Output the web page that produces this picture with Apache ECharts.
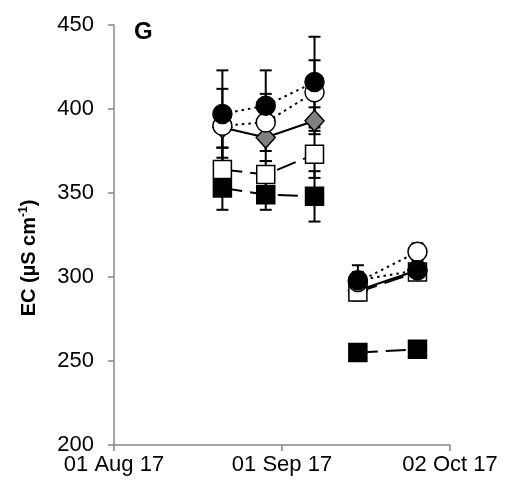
<!DOCTYPE html>
<html>
<head>
<meta charset="utf-8">
<script src="https://cdn.jsdelivr.net/npm/echarts@6/dist/echarts.min.js"></script>
<style>
html, body { margin: 0; padding: 0; background: #fff; }
#main { width: 507px; height: 493px; }
</style>
</head>
<body>
<div id="main"></div>
<script>
// sampling dates
var dates = ['2017-08-21', '2017-08-29', '2017-09-07', '2017-09-15', '2017-09-26'];
var xTicks = ['2017-08-01', '2017-09-01', '2017-10-02'];

// EC values (µS/cm) and error half-widths per treatment
var filledCircle = [397, 402, 416, 298, 304];
var filledCircleErr = [26, 21, 27, 9, 5];
var openCircle = [390, 392, 410, 297, 315];
var openCircleErr = [22, 17, 19, 6, 5];
var diamond = [389, 383, 393, 292, 304];
var diamondErr = [12, 14, 8, 6, 4];
var openSquare = [364, 361, 373, 291, 303];
var openSquareErr = [13, 8, 14, 4, 4];
var filledSquare = [353, 349, 348, 255, 257];
var filledSquareErr = [13, 9, 15, 3, 3];

// line breaks between these index groups
var segments = [[0, 1, 2], [3, 4]];

var DAY = 86400000;
var origin = Date.parse(xTicks[0]);
function dayOf(s) { return (Date.parse(s) - origin) / DAY; }
var months = ['Jan','Feb','Mar','Apr','May','Jun','Jul','Aug','Sep','Oct','Nov','Dec'];
function fmtDay(v) {
    var d = new Date(origin + v * DAY);
    var dd = d.getUTCDate();
    return (dd < 10 ? '0' + dd : dd) + ' ' + months[d.getUTCMonth()] + ' ' + String(d.getUTCFullYear()).slice(2);
}

var xs = dates.map(dayOf);
var xMax = dayOf(xTicks[2]);

var treatments = [
    {name: 'filledSquare', vals: filledSquare, err: filledSquareErr, symbol: 'rect', size: 18, fill: '#000', dash: [20, 8], z: 3},
    {name: 'diamond', vals: diamond, err: diamondErr, symbol: 'diamond', size: [19, 21], fill: '#808080', dash: 'solid', z: 4},
    {name: 'openSquare', vals: openSquare, err: openSquareErr, symbol: 'rect', size: 18, fill: '#fff', dash: [20, 8], z: 5},
    {name: 'openCircle', vals: openCircle, err: openCircleErr, symbol: 'circle', size: 19, fill: '#fff', dash: [2.5, 4], z: 6},
    {name: 'filledCircle', vals: filledCircle, err: filledCircleErr, symbol: 'circle', size: 19, fill: '#000', dash: [2.5, 4], z: 7}
];

var series = [];
treatments.forEach(function (t) {
    // error bars
    series.push({
        type: 'custom',
        z: 1,
        silent: true,
        data: xs.map(function (x, i) { return [x, t.vals[i] - t.err[i], t.vals[i] + t.err[i]]; }),
        renderItem: function (params, api) {
            var lo = api.coord([api.value(0), api.value(1)]);
            var hi = api.coord([api.value(0), api.value(2)]);
            var w = 6;
            var st = {stroke: '#000', lineWidth: 2};
            return {
                type: 'group',
                children: [
                    {type: 'line', shape: {x1: lo[0], y1: lo[1], x2: hi[0], y2: hi[1]}, style: st},
                    {type: 'line', shape: {x1: lo[0] - w, y1: lo[1], x2: lo[0] + w, y2: lo[1]}, style: st},
                    {type: 'line', shape: {x1: hi[0] - w, y1: hi[1], x2: hi[0] + w, y2: hi[1]}, style: st}
                ]
            };
        }
    });
    segments.forEach(function (seg) {
        series.push({
            name: t.name,
            type: 'line',
            z: t.z,
            symbol: t.symbol,
            symbolSize: t.size,
            showAllSymbol: true,
            animation: false,
            data: seg.map(function (i) { return [xs[i], t.vals[i]]; }),
            lineStyle: {color: '#000', width: 2, type: t.dash},
            itemStyle: {color: t.fill, borderColor: '#000', borderWidth: 1.5, opacity: 1}
        });
    });
});

var chart = echarts.init(document.getElementById('main'));
var option = {
    animation: false,
    textStyle: {fontFamily: 'Liberation Sans'},
    grid: {left: 114, right: 57, top: 25, bottom: 48, containLabel: false},
    graphic: [{
        type: 'text', left: 134, top: 20,
        style: {text: 'G', font: 'bold 24px "Liberation Sans"', fill: '#000'}
    }, {
        type: 'text',
        x: 29, y: 258,
        rotation: Math.PI / 2,
        style: {
            text: 'EC (µS cm{sup|-1})',
            fontFamily: 'Liberation Sans', fontSize: 20, fontWeight: 'bold', fill: '#000',
            align: 'center', verticalAlign: 'middle',
            rich: {sup: {fontSize: 12, fontWeight: 'bold', verticalAlign: 'bottom', padding: [0, 0, 10, 0]}}
        }
    }],
    xAxis: {
        type: 'value',
        min: 0,
        max: xMax,
        interval: 31,
        splitLine: {show: false},
        axisLine: {lineStyle: {color: '#888', width: 1.5}},
        axisTick: {show: true, length: 6, lineStyle: {color: '#888', width: 1.5}},
        axisLabel: {color: '#000', fontSize: 22, margin: 9, formatter: fmtDay}
    },
    yAxis: {
        type: 'value',
        min: 200,
        max: 450,
        interval: 50,
        splitLine: {show: false},
        axisLine: {show: true, lineStyle: {color: '#888', width: 1.5}},
        axisTick: {show: true, inside: false, length: 6, lineStyle: {color: '#888', width: 1.5}},
        axisLabel: {color: '#000', fontSize: 22, margin: 20}
    },
    series: series
};
chart.setOption(option);
</script>
</body>
</html>
